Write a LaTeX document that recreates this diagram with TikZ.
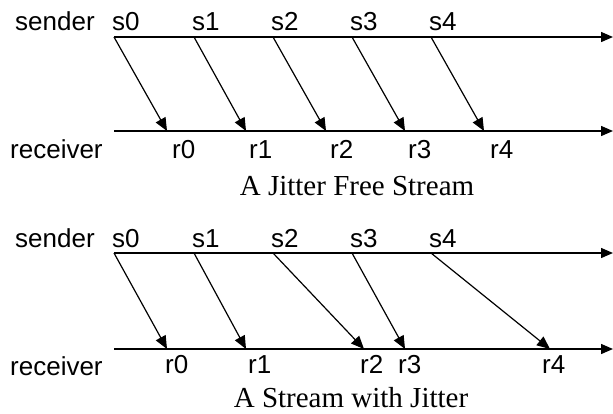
\documentclass[tikz,border=0pt]{standalone}
\usepackage{fontspec}
\setmainfont{Liberation Serif}
\setsansfont{Liberation Sans}
\usetikzlibrary{arrows.meta}

\begin{document}
\begin{tikzpicture}[x=1pt,y=-1pt,
  timeline/.style={line width=1.4pt,-{Triangle[length=12pt,width=10pt]}},
  packet/.style={line width=1.2pt,-{Triangle[length=13pt,width=11pt]}},
  tag/.style={font=\sffamily\fontsize{26}{30}\selectfont,inner sep=0pt,anchor=base west},
  caption/.style={font=\fontsize{29}{33}\selectfont,inner sep=0pt,anchor=base}]
\useasboundingbox (0,0) rectangle (613,413);

% Jitter free: every packet takes the same delay
\coordinate (As) at (114,37);   \coordinate (As end) at (613,37);
\coordinate (Ar) at (114,131);  \coordinate (Ar end) at (613,131);
\draw[timeline] (As) -- (As end);
\draw[timeline] (Ar) -- (Ar end);
\node[tag] (A sender) at (15,30) {sender};
\node[tag] (A receiver) at (10,158) {receiver};

\foreach \i/\sx/\rx/\lx in {0/114/167/172,1/194/246/249,2/273/326/330,3/352/405/408,4/431/484/490}
{
  \coordinate (As\i) at (\sx,37);
  \coordinate (Ar\i) at (\rx,131);
  \node[tag] (As\i lbl) at (\sx-2,30) {s\i};
  \node[tag] (Ar\i lbl) at (\lx,158) {r\i};
  \draw[packet] (As\i) -- (Ar\i);
}
\node[caption] (A title) at (357,195) {A Jitter Free Stream};

% With jitter: delays vary from packet to packet
\coordinate (Bs) at (114,253);  \coordinate (Bs end) at (613,253);
\coordinate (Br) at (114,349);  \coordinate (Br end) at (613,349);
\draw[timeline] (Bs) -- (Bs end);
\draw[timeline] (Br) -- (Br end);
\node[tag] (B sender) at (15,247) {sender};
\node[tag] (B receiver) at (10,375) {receiver};

\foreach \i/\sx/\rx/\lx in {0/114/167/165,1/194/246/248,2/273/364/360,3/352/405/398,4/431/550/542}
{
  \coordinate (Bs\i) at (\sx,253);
  \coordinate (Br\i) at (\rx,349);
  \node[tag] (Bs\i lbl) at (\sx-2,247) {s\i};
  \node[tag] (Br\i lbl) at (\lx,373) {r\i};
  \draw[packet] (Bs\i) -- (Br\i);
}
\node[caption] (B title) at (351,407) {A Stream with Jitter};
\end{tikzpicture}
\end{document}
